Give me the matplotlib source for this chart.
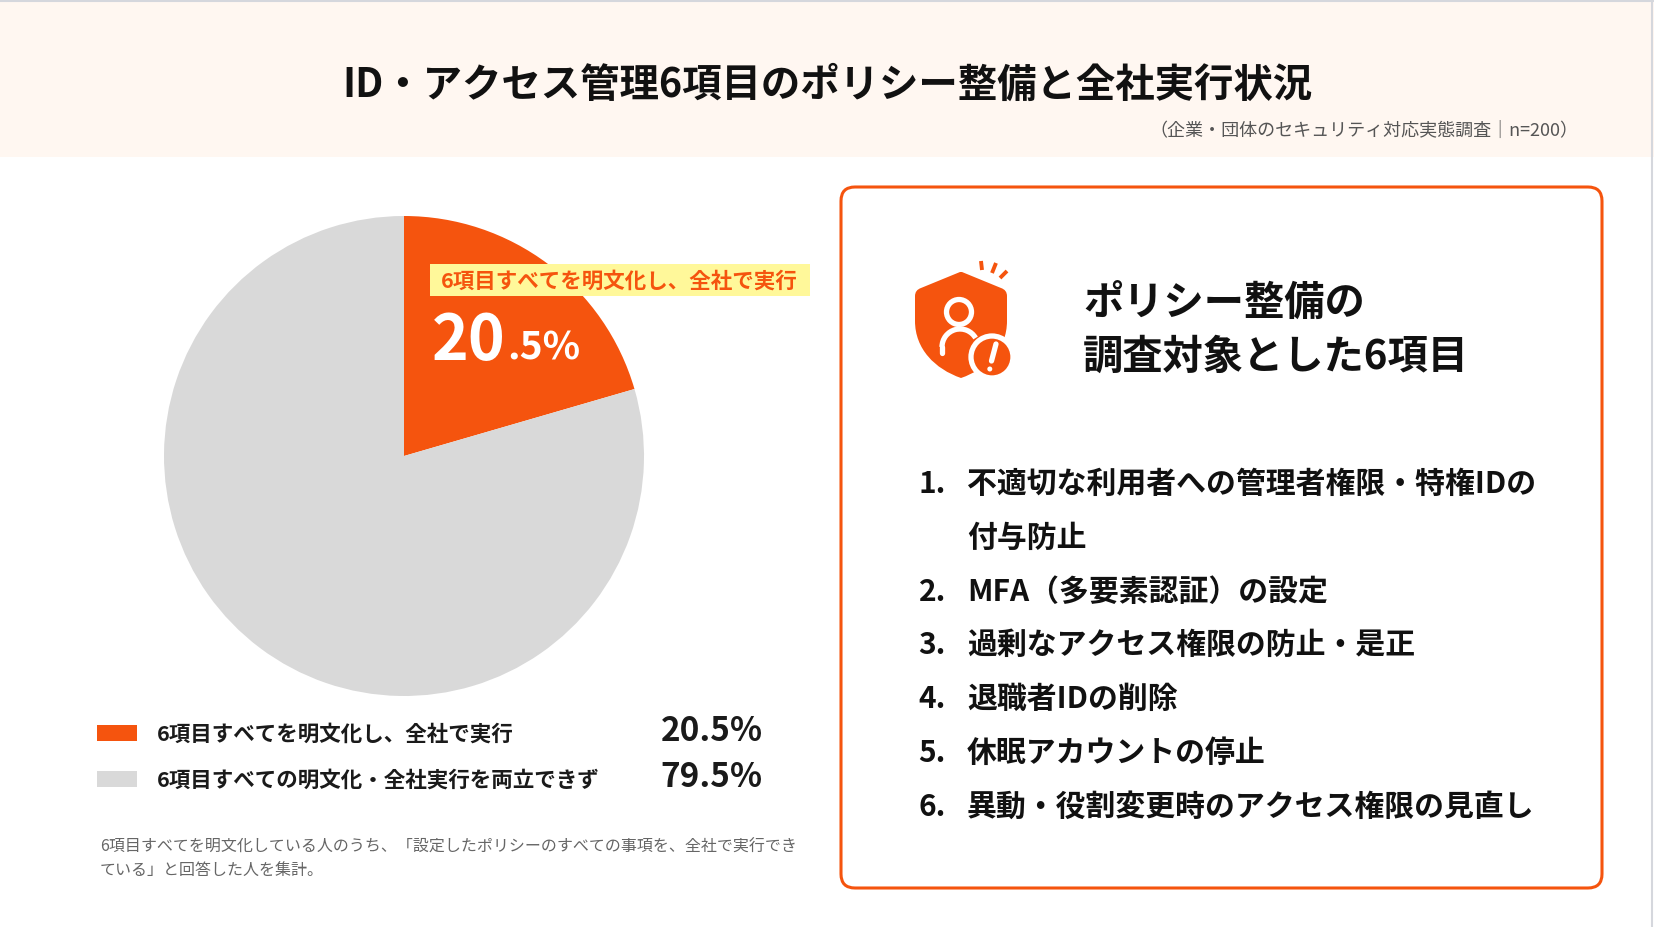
import matplotlib
matplotlib.use("Agg")
import matplotlib.pyplot as plt
from matplotlib.patches import Rectangle, FancyBboxPatch, Circle, Arc, PathPatch
from matplotlib.path import Path

plt.rcParams["font.family"] = ["Noto Sans CJK JP", "DejaVu Sans"]

# data
title = "ID・アクセス管理6項目のポリシー整備と全社実行状況"
source = "（企業・団体のセキュリティ対応実態調査｜n=200）"
categories = ["6項目すべてを明文化し、全社で実行", "6項目すべての明文化・全社実行を両立できず"]
shares = [20.5, 79.5]
note = ("6項目すべてを明文化している人のうち、「設定したポリシーのすべての事項を、全社で実行でき\n"
        "ている」と回答した人を集計。")
box_heading = ["ポリシー整備の", "調査対象とした6項目"]
policy_items = [
    "不適切な利用者への管理者権限・特権IDの\n付与防止",
    "MFA（多要素認証）の設定",
    "過剰なアクセス権限の防止・是正",
    "退職者IDの削除",
    "休眠アカウントの停止",
    "異動・役割変更時のアクセス権限の見直し",
]

ORANGE = "#F5540E"
GREY = "#D9D9D9"
W, H = 1654, 928

fig = plt.figure(figsize=(W / 100, H / 100), dpi=100)
fig.patch.set_facecolor("white")

# pie axes, placed in pixels
cx, cy, r = 404, 457, 240
pie_ax = fig.add_axes([(cx - r) / W, (H - cy - r) / H, 2 * r / W, 2 * r / H])
pie_ax.pie(shares, colors=[ORANGE, GREY], startangle=90, counterclock=False,
           radius=1, wedgeprops=dict(linewidth=0))
pie_ax.set_xlim(-1, 1)
pie_ax.set_ylim(-1, 1)
pie_ax.set_aspect("equal")
pie_ax.axis("off")

# overlay axes in pixel coordinates
ax = fig.add_axes([0, 0, 1, 1])
ax.set_xlim(0, W)
ax.set_ylim(H, 0)
ax.axis("off")
ax.patch.set_alpha(0)

# header band
ax.add_patch(Rectangle((0, 0), W, 158, facecolor="#FFF7F1", edgecolor="none", zorder=0))
ax.plot([0, W], [1.5, 1.5], color="#D5D7DD", lw=1.5)
ax.plot([W - 2, W - 2], [0, H], color="#D5D7DD", lw=1.5)
ax.text(827, 85, title, fontsize=28.4, fontweight="bold", color="#111111",
        ha="center", va="center")
ax.text(1578, 131, source, fontsize=13, color="#555555", ha="right", va="center")

# pie label
ax.add_patch(Rectangle((430, 265), 380, 32, facecolor="#FFF89A", edgecolor="none", zorder=2))
ax.text(441, 281, categories[0], fontsize=15.5, fontweight="bold", color=ORANGE,
        ha="left", va="center", zorder=3)
whole, frac = f"{shares[0]:.1f}".split(".")
t_big = ax.text(432, 360, whole, fontsize=45, fontweight="bold", color="white",
                ha="left", va="baseline", zorder=3)
fig.canvas.draw()
bb = t_big.get_window_extent().transformed(ax.transData.inverted())
ax.text(bb.x1 + 1, 360, "." + frac + "%", fontsize=28, fontweight="bold", color="white",
        ha="left", va="baseline", zorder=3)

# legend
legend_y = [734, 780]
for cat, val, col, y in zip(categories, shares, [ORANGE, GREY], legend_y):
    ax.add_patch(Rectangle((97, y - 8), 40, 16, facecolor=col, edgecolor="none"))
    ax.text(157, y, cat, fontsize=15.5, fontweight="bold", color="#1A1A1A",
            ha="left", va="center")
    ax.text(763, y - 2, f"{val:.1f}%", fontsize=24, fontweight="bold", color="#1A1A1A",
            ha="right", va="center")

ax.text(100, 859, note, fontsize=11.5, color="#666666", ha="left", va="center",
        linespacing=1.45)

# right box
ax.add_patch(FancyBboxPatch((841, 188), 761, 701, boxstyle="round,pad=0,rounding_size=14",
                            facecolor="white", edgecolor=ORANGE, lw=2.2, zorder=1))

# shield icon
verts = [(960, 273), (921, 289), (915, 291), (915, 297), (915, 322),
         (915, 350), (935, 370), (961, 379),
         (987, 370), (1007, 350), (1007, 322),
         (1007, 297), (1007, 291), (1001, 289), (962, 273), (960, 273)]
codes = [Path.MOVETO, Path.LINETO, Path.CURVE3, Path.CURVE3, Path.LINETO,
         Path.CURVE4, Path.CURVE4, Path.CURVE4,
         Path.CURVE4, Path.CURVE4, Path.CURVE4,
         Path.LINETO, Path.CURVE3, Path.CURVE3, Path.LINETO, Path.CLOSEPOLY]
ax.add_patch(PathPatch(Path(verts, codes), facecolor=ORANGE, edgecolor="none", zorder=3))
ax.add_patch(Circle((959, 313), 12.5, facecolor="none", edgecolor="white", lw=3.8, zorder=4))
ax.add_patch(Arc((960, 348), 36, 36, theta1=180, theta2=330, edgecolor="white", lw=3.8, zorder=4))
ax.plot([942, 942], [348, 354], color="white", lw=3.8, solid_capstyle="round", zorder=4)
ax.add_patch(Circle((992, 358), 21, facecolor=ORANGE, edgecolor="white", lw=3.8, zorder=5))
ax.plot([996, 991.5], [345, 362], color="white", lw=3.8, solid_capstyle="round", zorder=6)
ax.add_patch(Circle((989.8, 370), 2.5, facecolor="white", edgecolor="none", zorder=6))
for (x0, y0), (x1, y1) in [((981, 262), (982, 271)), ((996, 264), (992, 274)), ((1007, 272), (1000, 279))]:
    ax.plot([x0, x1], [y0, y1], color=ORANGE, lw=2.8, solid_capstyle="butt", zorder=3)

for i, line in enumerate(box_heading):
    ax.text(1083, 303 + i * 54, line, fontsize=29, fontweight="bold", color="#111111",
            ha="left", va="center", zorder=3)

# policy list
y = 484
for n, item in enumerate(policy_items, start=1):
    ax.text(946, y, f"{n}.", fontsize=21.5, fontweight="bold", color="#111111",
            ha="right", va="center", zorder=3)
    for line in item.split("\n"):
        ax.text(967, y, line, fontsize=21.5, fontweight="bold", color="#111111",
                ha="left", va="center", zorder=3)
        y += 53.8

fig.savefig("out.png", dpi=100)
